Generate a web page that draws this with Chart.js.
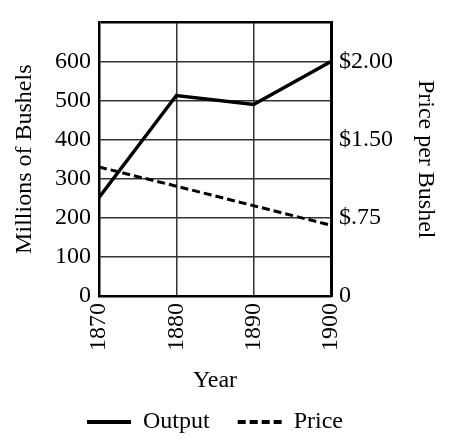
<!DOCTYPE html>
<html>
<head>
<meta charset="utf-8">
<script src="https://cdn.jsdelivr.net/npm/chart.js@4/dist/chart.umd.min.js"></script>
<style>
  html, body { margin: 0; padding: 0; background: #fff; }
  #wrap { width: 450px; height: 447px; }
</style>
</head>
<body>
<div id="wrap"><canvas id="c" width="450" height="447"></canvas></div>
<script>
// ----- data -----
const years = ['1870', '1880', '1890', '1900'];
const outputValues = [252, 513, 490, 600];          // millions of bushels
const priceValues = [330, 281, 231, 181];           // plotted on the price axis grid (grid units)
const leftTickValues = [0, 100, 200, 300, 400, 500, 600];
const priceTickValues = [0, 200, 400, 600];
const priceTickLabels = ['0', '$.75', '$1.50', '$2.00'];
const axisMax = 700;

const FONT = { family: "'Liberation Serif', 'DejaVu Serif', serif", size: 24 };

const legendShift = {
  id: 'legendShift',
  afterLayout(chart) {
    if (chart.legend) { chart.legend.left -= 10; chart.legend.right -= 10; }
  }
};

new Chart(document.getElementById('c'), {
  type: 'line',
  data: {
    labels: years,
    datasets: [
      { label: 'Output', data: outputValues, yAxisID: 'y', borderColor: '#000', backgroundColor: '#000',
        borderWidth: 3.5, pointRadius: 0, tension: 0, fill: false },
      { label: 'Price', data: priceValues, yAxisID: 'y2', borderColor: '#000', backgroundColor: '#000',
        borderWidth: 3, borderDash: [8, 4], pointRadius: 0, tension: 0, fill: false }
    ]
  },
  plugins: [legendShift],
  options: {
    responsive: false,
    animation: false,
    devicePixelRatio: 1,
    layout: { padding: { top: 20, left: 10, right: 10, bottom: 3 } },
    plugins: {
      tooltip: { enabled: false },
      legend: {
        position: 'bottom',
        labels: {
          color: '#000', font: FONT, usePointStyle: true, pointStyle: 'line',
          pointStyleWidth: 44, boxWidth: 44, padding: 28,
          generateLabels: chart => {
            const items = Chart.defaults.plugins.legend.labels.generateLabels(chart);
            items.forEach(it => {
              const ds = chart.data.datasets[it.datasetIndex];
              it.lineDash = ds.borderDash || [];
              it.lineWidth = 4;
              it.strokeStyle = '#000';
              it.pointStyle = 'line';
            });
            return items;
          }
        }
      }
    },
    scales: {
      x: {
        type: 'category', offset: false,
        grid: { color: '#333', lineWidth: 1.5, drawTicks: false },
        border: { color: '#000', width: 2.5 },
        ticks: { color: '#000', font: FONT, maxRotation: 90, minRotation: 90, padding: 7, autoSkip: false },
        title: { display: true, text: 'Year', color: '#000', font: FONT, padding: { top: 0, bottom: -13 } },
        afterFit: s => { s.height = 86; }
      },
      y: {
        position: 'left', min: 0, max: axisMax,
        afterBuildTicks: s => { s.ticks = leftTickValues.concat([axisMax]).map(v => ({ value: v })); },
        grid: {
          drawTicks: false,
          color: c => (c.tick && c.tick.value === axisMax) ? '#000' : '#333',
          lineWidth: c => (c.tick && c.tick.value === axisMax) ? 2.5 : 1.5
        },
        border: { color: '#000', width: 2.5 },
        ticks: { color: '#000', font: FONT, padding: 8, callback: v => (v === axisMax ? '' : String(v)) },
        title: { display: true, text: 'Millions of Bushels', color: '#000', font: FONT, padding: 0 },
        afterFit: s => { s.width = 89; }
      },
      y2: {
        position: 'right', min: 0, max: axisMax,
        afterBuildTicks: s => { s.ticks = priceTickValues.map(v => ({ value: v })); },
        grid: { drawOnChartArea: false, drawTicks: false },
        border: { color: '#000', width: 3 },
        ticks: { color: '#000', font: FONT, padding: 8,
          callback: v => { const i = priceTickValues.indexOf(v); return i >= 0 ? priceTickLabels[i] : ''; } },
        title: { display: true, text: 'Price per Bushel', color: '#000', font: FONT, padding: 0 },
        afterFit: s => { s.width = 109; }
      }
    }
  }
});
</script>
</body>
</html>
